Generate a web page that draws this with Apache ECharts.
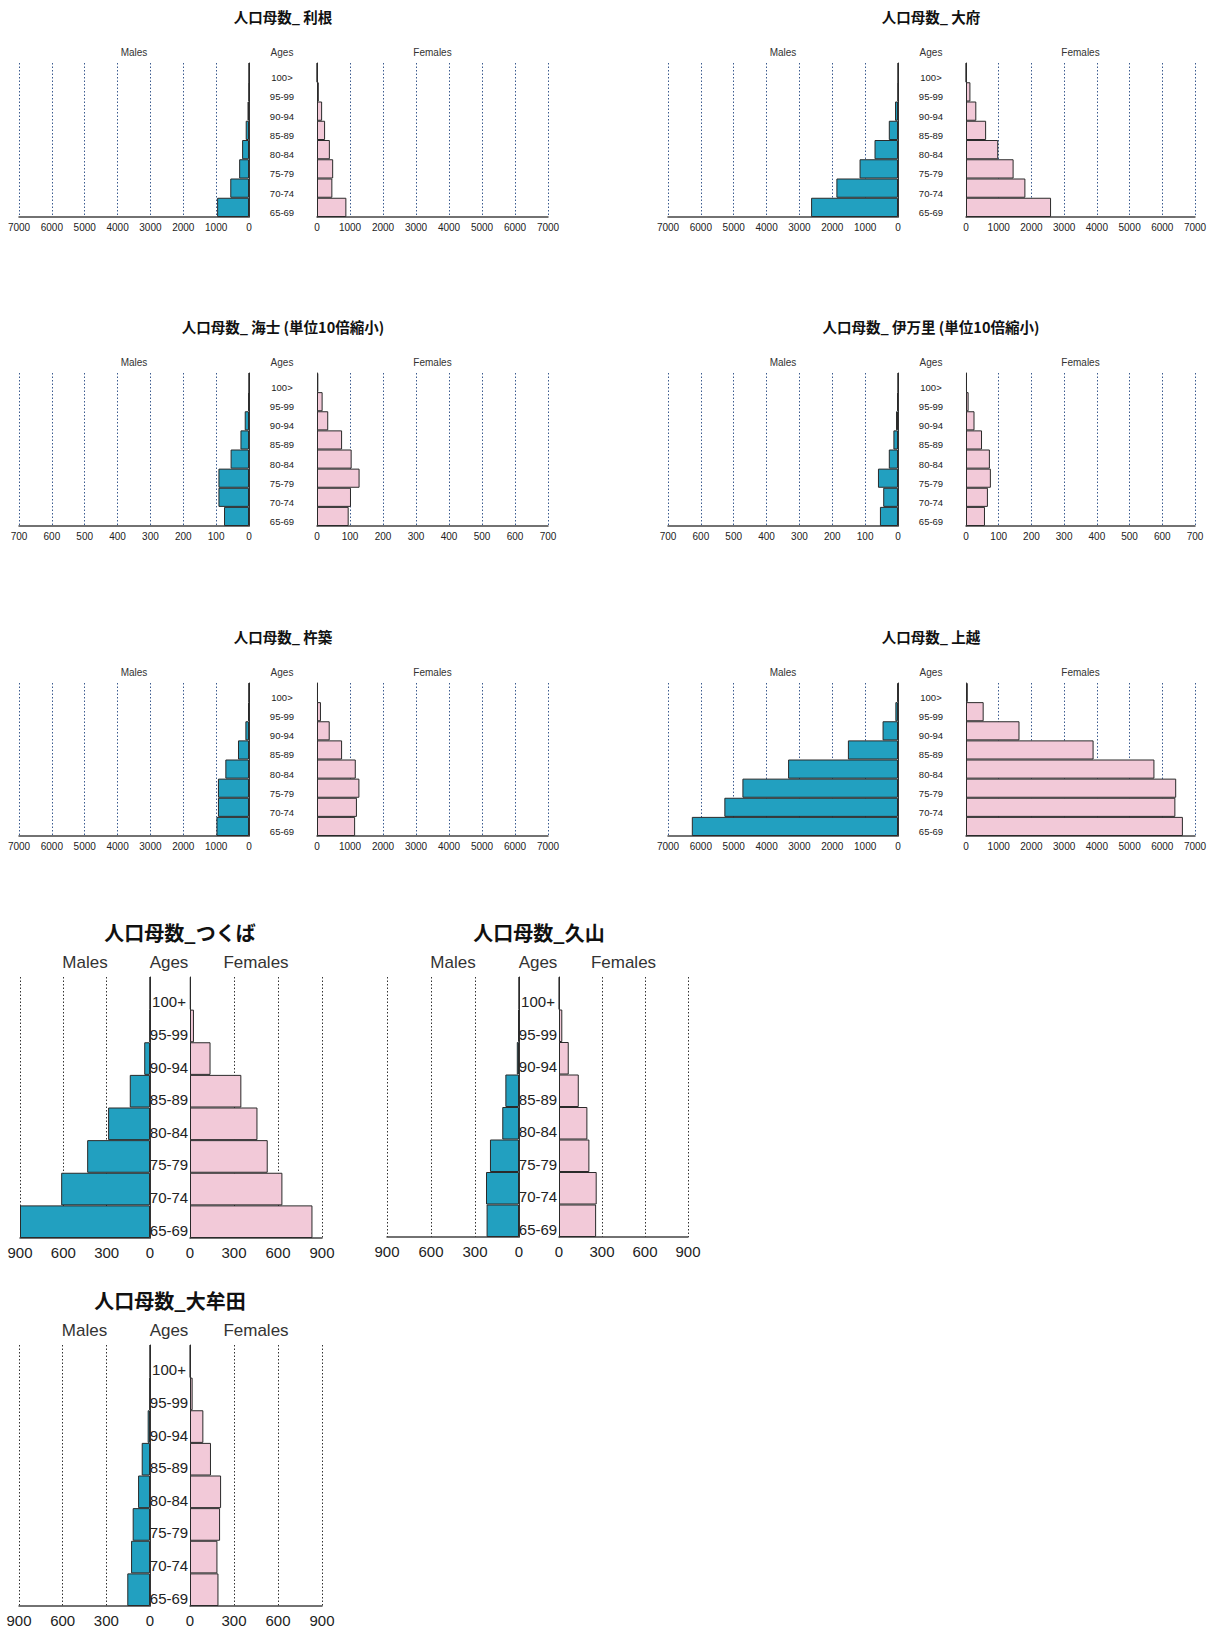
<!DOCTYPE html>
<html>
<head>
<meta charset="utf-8">
<script src="https://cdn.jsdelivr.net/npm/echarts@6/dist/echarts.min.js"></script>
<style>
html,body{margin:0;padding:0;background:#fff;}
#c{width:1215px;height:1636px;}
</style>
</head>
<body>
<div id="c"></div>
<script>
// ---- data (age groups listed top to bottom) ----
const agesA = ['100>', '95-99', '90-94', '85-89', '80-84', '75-79', '70-74', '65-69'];
const agesB = ['100+', '95-99', '90-94', '85-89', '80-84', '75-79', '70-74', '65-69'];

const toneMale      = [0, 5, 45, 100, 210, 300, 570, 970];
const toneFemale    = [3, 55, 155, 245, 390, 490, 465, 890];
const obuMale       = [0, 5, 90, 280, 715, 1170, 1875, 2645];
const obuFemale     = [5, 135, 315, 615, 985, 1455, 1815, 2600];
const amaMale       = [0, 2, 13, 26, 56, 93, 93, 76];
const amaFemale     = [4, 17, 34, 76, 105, 129, 103, 96];
const imariMale     = [0, 3, 6, 14, 28, 61, 45, 55];
const imariFemale   = [3, 8, 26, 49, 73, 76, 67, 58];
const kitsukiMale   = [5, 25, 110, 335, 720, 945, 945, 990];
const kitsukiFemale = [30, 120, 385, 760, 1175, 1285, 1210, 1155];
const joetsuMale    = [20, 80, 470, 1525, 3345, 4735, 5285, 6275];
const joetsuFemale  = [55, 540, 1635, 3900, 5760, 6425, 6400, 6630];
const tsukubaMale   = [0, 3, 40, 140, 290, 435, 615, 900];
const tsukubaFemale = [5, 27, 140, 350, 460, 530, 630, 835];
const hisayamaMale  = [0, 5, 15, 93, 114, 198, 225, 221];
const hisayamaFemale= [2, 23, 68, 138, 198, 212, 263, 259];
const omutaMale     = [0, 3, 16, 57, 82, 119, 130, 156];
const omutaFemale   = [2, 18, 91, 143, 212, 205, 187, 194];

const titles = ['人口母数_ 利根', '人口母数_ 大府', '人口母数_ 海士 (単位10倍縮小)', '人口母数_ 伊万里 (単位10倍縮小)',
  '人口母数_ 杵築', '人口母数_ 上越', '人口母数_つくば', '人口母数_久山', '人口母数_大牟田'];
const headers = ['Males', 'Ages', 'Females'];

// ---- layout ----
const styles = {
  small: {tick: 10, age: 9.5, ageLH: 10, title: 14.5, head: 10, grid: '#3b5b8f', tickMargin: 5, ageMargin: 35, headOff: 11, titleOff: 47},
  big:   {tick: 15, age: 15, ageLH: 17, title: 20, head: 17, grid: '#333', tickMargin: 7, ageMargin: 21, headOff: 15, titleOff: 45}
};
const panels = [
  {t: 0, m: toneMale, f: toneFemale, ages: agesA, max: 7000, iv: 1000, s: 'small', cx: 283, lx: 19, lw: 230, rx: 317, rw: 231, top: 63, h: 154},
  {t: 1, m: obuMale, f: obuFemale, ages: agesA, max: 7000, iv: 1000, s: 'small', cx: 931, lx: 668, lw: 230, rx: 966, rw: 229, top: 63, h: 154},
  {t: 2, m: amaMale, f: amaFemale, ages: agesA, max: 700, iv: 100, s: 'small', cx: 283, lx: 19, lw: 230, rx: 317, rw: 231, top: 373, h: 153},
  {t: 3, m: imariMale, f: imariFemale, ages: agesA, max: 700, iv: 100, s: 'small', cx: 931, lx: 668, lw: 230, rx: 966, rw: 229, top: 373, h: 153},
  {t: 4, m: kitsukiMale, f: kitsukiFemale, ages: agesA, max: 7000, iv: 1000, s: 'small', cx: 283, lx: 19, lw: 230, rx: 317, rw: 231, top: 683, h: 153},
  {t: 5, m: joetsuMale, f: joetsuFemale, ages: agesA, max: 7000, iv: 1000, s: 'small', cx: 931, lx: 668, lw: 230, rx: 966, rw: 229, top: 683, h: 153},
  {t: 6, m: tsukubaMale, f: tsukubaFemale, ages: agesB, max: 900, iv: 300, s: 'big', cx: 180, lx: 20, lw: 130, rx: 190, rw: 132, top: 977, h: 261},
  {t: 7, m: hisayamaMale, f: hisayamaFemale, ages: agesB, max: 900, iv: 300, s: 'big', cx: 539, lx: 387, lw: 132, rx: 559, rw: 129, top: 977, h: 260},
  {t: 8, m: omutaMale, f: omutaFemale, ages: agesB, max: 900, iv: 300, s: 'big', cx: 170, lx: 19, lw: 131, rx: 190, rw: 132, top: 1345, h: 261}
];

const maleColor = '#22a0c0';
const femaleColor = '#f2c9d8';
const latin = 'Arial, "Liberation Sans", sans-serif';
const cjk = '"Noto Sans CJK JP", "Noto Sans CJK SC", sans-serif';

const grid = [], xAxis = [], yAxis = [], series = [], graphic = [];

function txt(x, y, text, font, color) {
  graphic.push({type: 'text', x: x, y: y, silent: true,
    style: {text: text, font: font, fill: color, align: 'center', verticalAlign: 'middle',
            textAlign: 'center', textVerticalAlign: 'middle'}});
}

panels.forEach(function (p) {
  const st = styles[p.s];
  const gi = grid.length;
  grid.push({left: p.lx, top: p.top, width: p.lw, height: p.h, containLabel: false});
  grid.push({left: p.rx, top: p.top, width: p.rw, height: p.h, containLabel: false});
  [0, 1].forEach(function (side) {
    xAxis.push({
      type: 'value', gridIndex: gi + side, min: 0, max: p.max, interval: p.iv,
      inverse: side === 0, position: 'bottom',
      axisLine: {show: true, onZero: false, lineStyle: {color: '#444', width: 1.5}},
      axisTick: {show: false},
      axisLabel: {show: true, fontSize: st.tick, fontFamily: latin, color: '#222', margin: st.tickMargin,
                  showMinLabel: true, showMaxLabel: true, hideOverlap: false,
                  formatter: function (v) { return String(v); }},
      splitLine: {show: true, lineStyle: {color: st.grid, type: [1.5, 2], width: 1}}
    });
    yAxis.push({
      type: 'category', gridIndex: gi + side, data: p.ages, inverse: true,
      position: side === 0 ? 'right' : 'left',
      axisLine: {show: true, onZero: false, lineStyle: {color: '#333', width: 1}},
      axisTick: {show: false},
      splitLine: {show: false},
      axisLabel: side === 0 ? {show: false} : {
        show: true, interval: 0, align: 'center', verticalAlign: 'top', lineHeight: st.ageLH,
        margin: st.ageMargin, fontSize: st.age, fontFamily: latin, color: '#222'
      }
    });
  });
  series.push({
    type: 'bar', name: 'Males', xAxisIndex: gi, yAxisIndex: gi, data: p.m,
    barCategoryGap: '0%', itemStyle: {color: maleColor, borderColor: '#2a2a2a', borderWidth: 1}
  });
  series.push({
    type: 'bar', name: 'Females', xAxisIndex: gi + 1, yAxisIndex: gi + 1, data: p.f,
    barCategoryGap: '0%', itemStyle: {color: femaleColor, borderColor: '#2a2a2a', borderWidth: 1}
  });
  txt(p.cx, p.top - st.titleOff, titles[p.t], 'bold ' + st.title + 'px ' + cjk, '#111');
  const hy = p.top - st.headOff;
  txt(p.lx + p.lw / 2, hy, headers[0], st.head + 'px ' + latin, '#333');
  txt(p.rx - st.ageMargin, hy, headers[1], st.head + 'px ' + latin, '#333');
  txt(p.rx + p.rw / 2, hy, headers[2], st.head + 'px ' + latin, '#333');
});

const chart = echarts.init(document.getElementById('c'), null, {renderer: 'svg'});
chart.setOption({
  animation: false,
  backgroundColor: '#fff',
  grid: grid, xAxis: xAxis, yAxis: yAxis, series: series, graphic: graphic
});
</script>
</body>
</html>
